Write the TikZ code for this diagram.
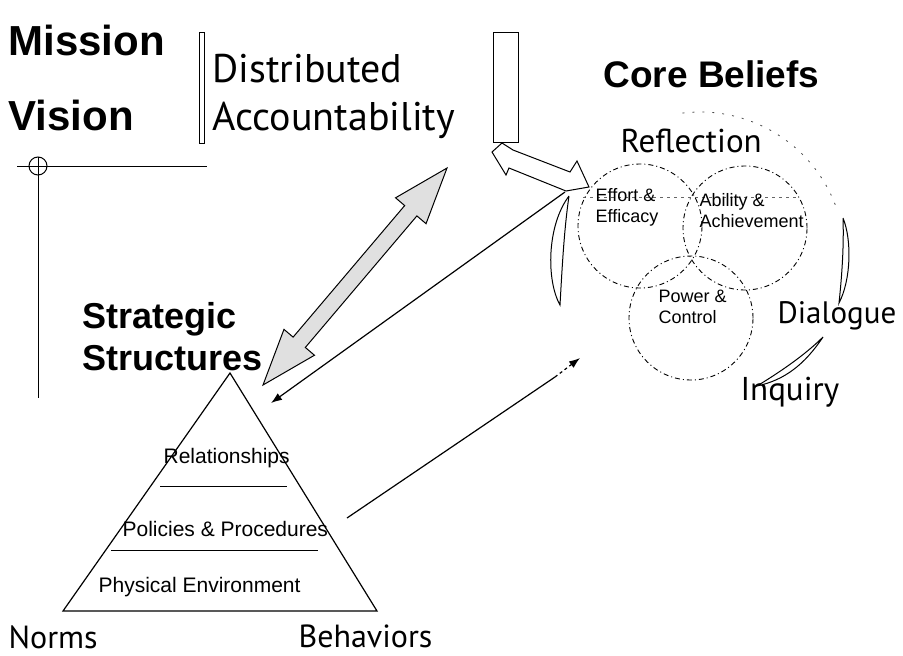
\documentclass[tikz,border=0pt]{standalone}
\usepackage{fontspec}
\usetikzlibrary{arrows.meta}
\newfontfamily\boldsans{Liberation Sans}
\newfontfamily\softsans{PT Sans}

\tikzset{
  title/.style={anchor=base west,inner sep=0pt,font=\boldsans\bfseries\fontsize{#1}{#1}\selectfont},
  word/.style={anchor=base west,inner sep=0pt,font=\softsans\fontsize{#1}{#1}\selectfont},
  layer/.style={anchor=base west,inner sep=0pt,font=\boldsans\fontsize{21}{21}\selectfont},
  tag/.style={anchor=base west,inner sep=0pt,align=left,font=\boldsans\fontsize{18}{21}\selectfont},
  belief/.style={draw,circle,minimum size=124pt,inner sep=0pt,line width=0.9pt,
    dash pattern=on 5pt off 3pt on 1pt off 3pt},
  ring/.style={black!70,line width=0.8pt,dash pattern=on 2pt off 8pt},
  lens/.style={line width=1pt,fill=white},
}

\begin{document}
\begin{tikzpicture}[x=1pt,y=-1pt,line width=1.2pt,>={Latex[length=11pt,width=8pt]}]
  \useasboundingbox (0,0) rectangle (903,656);

  % ---- top left headings ----
  \node[title=42] (mission) at (8,55) {Mission};
  \node[title=42] (vision) at (8,130) {Vision};
  \draw[line width=0.8pt] (199,32) rectangle (204,143);
  \node[word=40] (dist) at (212,82) {Distributed};
  \node[word=40] (acc) at (212,130) {Accountability};

  % corner marks
  \draw[line width=1pt] (17,166) -- (207,166);
  \draw[line width=1pt] (38,157) -- (38,398);
  \draw[line width=1pt] (38,166) circle (9pt);

  % ---- strategic structures pyramid ----
  \node[title=36] (strat) at (82,328) {Strategic};
  \node[title=36] (struct) at (82,370) {Structures};
  \coordinate (apex) at (230,373);
  \coordinate (bl) at (63,611);
  \coordinate (br) at (377,611);
  \draw (apex) -- (bl) -- (br) -- cycle;
  \draw[line width=0.6pt] (160,486) -- (287,486);
  \draw[line width=0.6pt] (111,550) -- (318,550);
  \node[layer] (rel) at (163,463) {Relationships};
  \node[layer] (pol) at (122,536) {Policies \& Procedures};
  \node[layer] (phys) at (98,592) {Physical Environment};
  \node[word=32] (norms) at (8,648) {Norms};
  \node[word=32] (behav) at (298,647) {Behaviors};

  % ---- core beliefs ----
  \node[title=37] (core) at (603,87) {Core Beliefs};
  \coordinate (hub) at (700,257);
  \draw[ring] ([shift={(97:145pt)}]hub) arc[start angle=97,end angle=20,radius=145pt];
  \draw[black!60,line width=0.5pt,dash pattern=on 3pt off 4pt] (583,197) -- (797,197);

  \node[belief] (effortc) at (640,226) {};
  \node[belief] (abilityc) at (745,228) {};
  \node[belief] (powerc) at (691,318) {};
  \node[tag] (effort) at (595,222) {Effort \&\\Efficacy};
  \node[tag] (ability) at (699,227) {Ability \&\\Achievement};
  \node[tag] (power) at (658,323) {Power \&\\Control};

  \node[word=33] (refl) at (620,152) {Reflection};
  \node[word=31] (dial) at (777,323) {Dialogue};
  \node[word=33] (inq) at (740,400) {Inquiry};

  % crescents on the outer ring
  \draw[lens] (569,196) .. controls (547,225) and (546,280) .. (560,305)
              .. controls (562,270) and (564,230) .. (569,196);
  \draw[lens] (843,218) .. controls (852,240) and (851,280) .. (839,303)
              .. controls (842,275) and (844,245) .. (843,218);
  \draw[lens] (823,337) .. controls (805,364) and (785,380) .. (757,386)
              .. controls (780,372) and (805,355) .. (823,337);

  % ---- connectors ----
  % bar and bent arrow into the beliefs
  \node[draw,rectangle,minimum width=25pt,minimum height=110pt,inner sep=0pt,
        line width=1pt] (bar) at (505.5,87) {};
  \draw[fill=white,line width=1pt] (492,152) -- (502,143) -- (513,150) -- (570,172)
    -- (577,161) -- (589,187) -- (566,191) -- (509,168) -- (506,175) -- cycle;

  % wide two-way arrow
  \coordinate (ssend) at (263,385);
  \begin{scope}[shift={(ssend)},rotate=49.7]
    \draw[fill=black!12,line width=1pt] (0pt,0pt) -- (56pt,20pt) -- (56pt,8pt)
      -- (228.5pt,8pt) -- (228.5pt,20pt) -- (284.5pt,0pt) -- (228.5pt,-20pt)
      -- (228.5pt,-8pt) -- (56pt,-8pt) -- (56pt,-20pt) -- cycle;
  \end{scope}

  \coordinate (cbin) at (565,192);
  \coordinate (ssin) at (271,403);
  \draw[->] (cbin) -- (ssin);

  \coordinate (ssout) at (347,518);
  \coordinate (gap) at (555,377);
  \coordinate (cbout) at (580,358);
  \draw (ssout) -- (gap);
  \draw[dashed,->] (gap) -- (cbout);
\end{tikzpicture}
\end{document}
